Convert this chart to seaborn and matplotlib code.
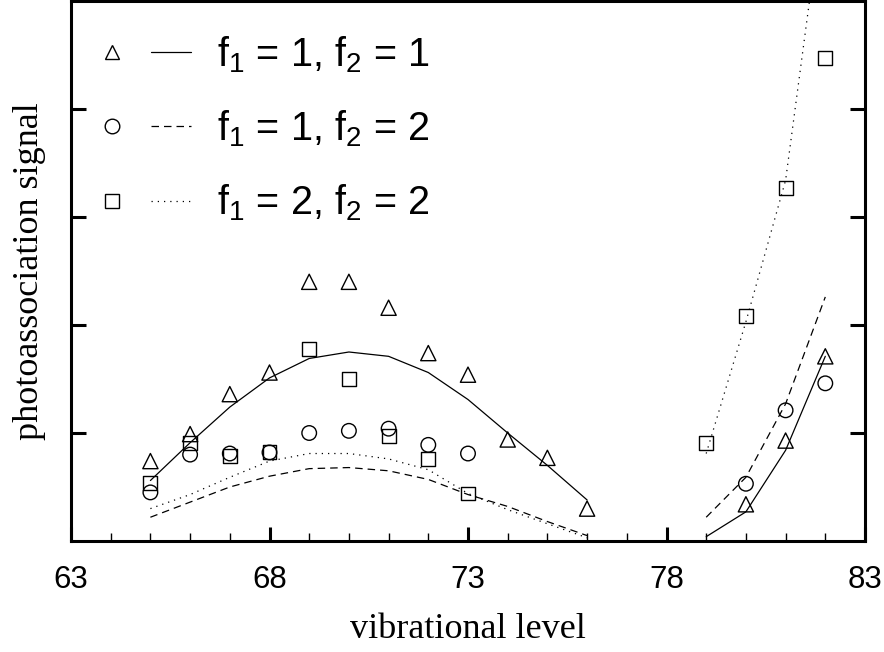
import numpy as np
import pandas as pd
import matplotlib
matplotlib.use("Agg")
import matplotlib.pyplot as plt
import seaborn as sns
from matplotlib.lines import Line2D
from matplotlib.legend_handler import HandlerTuple
from matplotlib.ticker import MultipleLocator, FixedLocator, NullFormatter

# ---------------- data ----------------
tri_x = [65, 66, 67, 68, 69, 70, 71, 72, 73, 74, 75, 76, 80, 81, 82]
tri_y = [0.74, 0.99, 1.36, 1.56, 2.40, 2.40, 2.16, 1.74, 1.54, 0.94, 0.77, 0.30, 0.34, 0.93, 1.71]

circ_x = [65, 66, 67, 68, 69, 70, 71, 72, 73, 80, 81, 82]
circ_y = [0.45, 0.80, 0.81, 0.82, 1.00, 1.02, 1.04, 0.89, 0.81, 0.53, 1.21, 1.46]

sq_x = [65, 66, 67, 68, 69, 70, 71, 72, 73, 79, 80, 81, 82]
sq_y = [0.54, 0.91, 0.79, 0.82, 1.78, 1.50, 0.97, 0.76, 0.44, 0.91, 2.08, 3.27, 4.47]

fit_left_x = [65, 66, 67, 68, 69, 70, 71, 72, 73, 74, 75, 76]
fit_right_x = [79, 80, 81, 82]
fit11_left = [0.56, 0.91, 1.24, 1.51, 1.69, 1.75, 1.71, 1.56, 1.31, 1.00, 0.70, 0.38]
fit11_right = [0.04, 0.27, 0.84, 1.71]
fit12_left = [0.22, 0.36, 0.50, 0.60, 0.67, 0.68, 0.65, 0.57, 0.43, 0.32, 0.18, 0.05]
fit12_right = [0.22, 0.59, 1.27, 2.26]
fit22_left = [0.30, 0.43, 0.59, 0.74, 0.81, 0.81, 0.76, 0.66, 0.44, 0.29, 0.16, 0.03]
fit22_right = [0.81, 2.03, 3.34, 6.10]

labels = [r"f$_\mathregular{1}$ = 1, f$_\mathregular{2}$ = 1",
          r"f$_\mathregular{1}$ = 1, f$_\mathregular{2}$ = 2",
          r"f$_\mathregular{1}$ = 2, f$_\mathregular{2}$ = 2"]
x_ticks = [63, 68, 73, 78, 83]

# ---------------- style ----------------
sns.set_theme(style="white")
plt.rcParams["font.family"] = ["Liberation Sans", "DejaVu Sans"]
plt.rcParams["mathtext.fontset"] = "custom"
plt.rcParams["mathtext.rm"] = "Liberation Sans"
plt.rcParams["text.color"] = "black"
plt.rcParams["axes.labelcolor"] = "black"
plt.rcParams["xtick.color"] = "black"
plt.rcParams["ytick.color"] = "black"

fig = plt.figure(figsize=(8.84, 6.52), dpi=100)
ax = fig.add_axes([71 / 884, 1 - 541 / 652, (865 - 71) / 884, (541 - 1) / 652])

dash = (6, 4)
styles = [dict(linestyle="-"), dict(dashes=dash), dict(linestyle=(0, (1, 4)))]

fits = [(fit11_left, fit11_right), (fit12_left, fit12_right), (fit22_left, fit22_right)]
for (fl, fr), st in zip(fits, styles):
    for xs, ys in ((fit_left_x, fl), (fit_right_x, fr)):
        sns.lineplot(x=xs, y=ys, ax=ax, color="black", lw=0.9, sort=False,
                     estimator=None)
        line = ax.lines[-1]
        if "dashes" in st:
            line.set_dashes(st["dashes"])
        else:
            line.set_linestyle(st["linestyle"])

for xs, ys, mk, s in ((tri_x, tri_y, "^", 120), (circ_x, circ_y, "o", 110), (sq_x, sq_y, "s", 100)):
    sns.scatterplot(x=xs, y=ys, ax=ax, marker=mk, s=s, facecolor="none",
                    edgecolor="black", linewidth=1.0, zorder=3)

ax.set_xlim(63, 83)
ax.set_ylim(0, 5)
ax.xaxis.set_major_locator(FixedLocator(x_ticks))
ax.xaxis.set_minor_locator(MultipleLocator(1))
ax.yaxis.set_major_locator(FixedLocator([1, 2, 3, 4]))
ax.yaxis.set_major_formatter(NullFormatter())

for sp in ax.spines.values():
    sp.set_linewidth(2.2)
    sp.set_color("black")

ax.tick_params(axis="x", which="major", direction="in", length=10, width=2.2,
               labelsize=22.5, pad=17, bottom=True, top=False, colors="black")
ax.tick_params(axis="x", which="minor", direction="in", length=6, width=1,
               bottom=True, top=False, colors="black")
ax.tick_params(axis="y", which="major", direction="in", length=11, width=2.2,
               left=True, right=True, labelleft=False, colors="black")

ax.set_xlabel("vibrational level", family=["Liberation Serif"], fontsize=26, labelpad=13,
              color="black")
ax.set_ylabel("photoassociation signal", family=["Liberation Serif"], fontsize=26, labelpad=18,
              color="black")

mk = ["^", "o", "s"]
handles = []
for m, st in zip(mk, styles):
    h1 = Line2D([], [], marker=m, linestyle="none", markerfacecolor="none",
                markeredgecolor="black", markersize=10.5, markeredgewidth=1.0)
    h2 = Line2D([], [], color="black", lw=0.9)
    if "dashes" in st:
        h2.set_dashes(st["dashes"])
    else:
        h2.set_linestyle(st["linestyle"])
    handles.append((h1, h2))

leg = ax.legend(handles, labels, handler_map={tuple: HandlerTuple(ndivide=None, pad=0.46)},
                loc="upper left", bbox_to_anchor=(21 / 794, 1 - 33 / 540), frameon=False,
                fontsize=28.5, handlelength=2.5, handletextpad=0.66, labelspacing=0.85,
                borderaxespad=0.0, borderpad=0.0)
for t in leg.get_texts():
    t.set_color("black")

fig.savefig("out.png", dpi=100)
